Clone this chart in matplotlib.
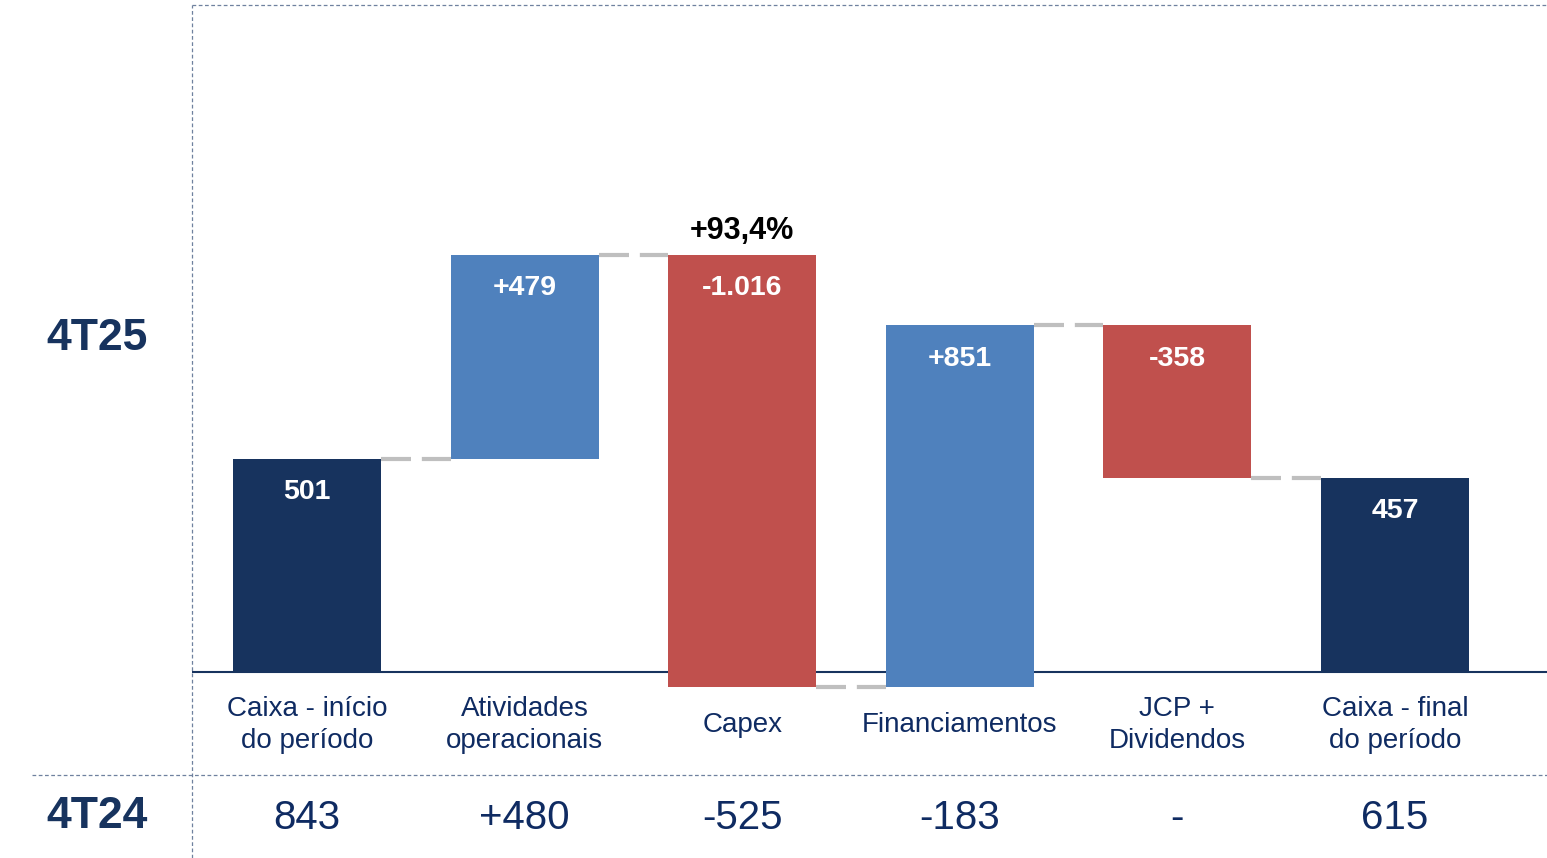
import matplotlib
matplotlib.use("Agg")
import matplotlib.pyplot as plt
from matplotlib.lines import Line2D
from matplotlib.transforms import blended_transform_factory
import numpy as np

plt.rcParams['font.family'] = ['Liberation Sans', 'DejaVu Sans']

# ---------------- data ----------------
categories = ["Caixa - início\ndo período", "Atividades\noperacionais", "Capex",
              "Financiamentos", "JCP +\nDividendos", "Caixa - final\ndo período"]
step_values = [501, 479, -1016, 851, -358, 457]
step_kinds = ["total", "delta", "delta", "delta", "delta", "total"]
bar_labels = ["501", "+479", "-1.016", "+851", "-358", "457"]
prev_year_labels = ["843", "+480", "-525", "-183", "-", "615"]
highlight_label = "+93,4%"
highlight_index = 2
period_now = "4T25"
period_prev = "4T24"

# ---------------- style ----------------
NAVY = "#17335E"
BLUE = "#4F81BD"
RED = "#C0504D"
TEXT = "#0F2B62"
FRAME = "#6F819F"
CONN = "#BFBFBF"

W, H = 1547, 858
fig = plt.figure(figsize=(W / 100, H / 100), dpi=100)
ax = fig.add_axes([192 / W, 0, 1 - 192 / W, 1 - 5 / H])
scale = 0.4255  # px per unit
ax.set_ylim(-(H - 672) / scale, (672 - 5) / scale)
ax.set_xlim(-0.5285, 5.6985)
ax.axis("off")

x = np.arange(len(step_values))
bottoms, heights, colors, levels = [], [], [], []
running = 0
for v, k in zip(step_values, step_kinds):
    if k == "total":
        bottoms.append(0)
        heights.append(v)
        colors.append(NAVY)
        running = v
    else:
        bottoms.append(running)
        heights.append(v)
        colors.append(BLUE if v >= 0 else RED)
        running += v
    levels.append(running)

bw = 0.68
ax.axhline(0, color=NAVY, lw=1.5, zorder=1)
ax.bar(x, heights, bottom=bottoms, width=bw, color=colors, zorder=2, linewidth=0)

# connectors
for i in range(len(x) - 1):
    ax.plot([x[i] + bw / 2, x[i + 1] - bw / 2], [levels[i], levels[i]],
            color=CONN, lw=3, linestyle=(0, (7.2, 2.6)), solid_capstyle="butt",
            dash_capstyle="butt", zorder=1)

# bar value labels
for i in range(len(x)):
    top = max(bottoms[i], bottoms[i] + heights[i])
    ax.annotate(bar_labels[i], xy=(x[i], top), xytext=(0, -24), textcoords="offset points",
                ha="center", va="center", color="white", fontsize=20.5, fontweight="bold", zorder=3)

# highlight
htop = max(bottoms[highlight_index], bottoms[highlight_index] + heights[highlight_index])
ax.annotate(highlight_label, xy=(x[highlight_index], htop), xytext=(0, 17),
            textcoords="offset points", ha="center", va="center", color="black",
            fontsize=22, fontweight="bold")

# category labels and previous-year values
tr = blended_transform_factory(ax.transData, fig.transFigure)
for i, c in enumerate(categories):
    ax.text(x[i], 1 - 725 / H, c, transform=tr, ha="center", va="center",
            fontsize=20, color=TEXT, linespacing=1.3)
    ax.text(x[i], 1 - 818 / H, prev_year_labels[i], transform=tr, ha="center", va="center",
            fontsize=29, color=TEXT)

# period labels
fig.text(97 / W, 1 - 338 / H, period_now, ha="center", va="center",
         fontsize=32, fontweight="bold", color=NAVY)
fig.text(97 / W, 1 - 816 / H, period_prev, ha="center", va="center",
         fontsize=32, fontweight="bold", color=NAVY)

# dashed frame lines
dash = (0, (3, 2))
fig.add_artist(Line2D([192 / W, 192 / W], [0, 1 - 5 / H], transform=fig.transFigure,
                      color=FRAME, lw=0.9, linestyle=dash))
fig.add_artist(Line2D([192 / W, 1], [1 - 5 / H, 1 - 5 / H], transform=fig.transFigure,
                      color=FRAME, lw=0.9, linestyle=dash))
fig.add_artist(Line2D([32 / W, 1], [1 - 775 / H, 1 - 775 / H], transform=fig.transFigure,
                      color=FRAME, lw=0.9, linestyle=dash))

fig.savefig("out.png", dpi=100)
